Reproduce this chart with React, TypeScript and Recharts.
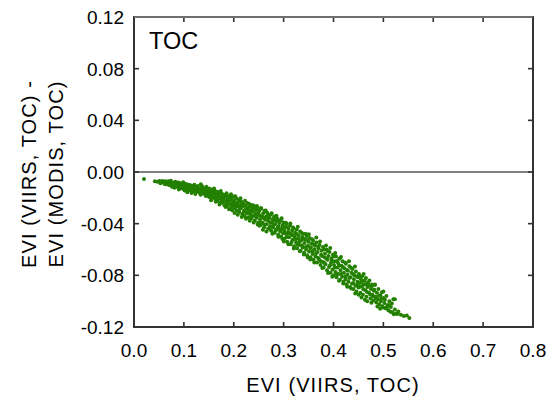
import React from 'react';
import { ScatterChart, Scatter, XAxis, YAxis, ReferenceLine } from 'recharts';

const xTicks = [0, 0.1, 0.2, 0.3, 0.4, 0.5, 0.6, 0.7, 0.8];
const xTickLabels = ['0.0', '0.1', '0.2', '0.3', '0.4', '0.5', '0.6', '0.7', '0.8'];
const yTicks = [-0.12, -0.08, -0.04, 0, 0.04, 0.08, 0.12];
const yTickLabels = ['-0.12', '-0.08', '-0.04', '0.00', '0.04', '0.08', '0.12'];
const xDomain = [0, 0.8];
const yDomain = [-0.12, 0.12];

const panelLabel = 'TOC';
const xTitle = 'EVI (VIIRS, TOC)';
const yTitleLines = ['EVI (VIIRS, TOC) -', 'EVI (MODIS, TOC)'];

// [EVI VIIRS TOC, EVI difference]
const pointsCore: [number, number][] = [
  [0.020, -0.0055], [0.042, -0.0072], [0.047, -0.0075], [0.051, -0.0070], [0.055, -0.0082], [0.058, -0.0076], [0.061, -0.0085], [0.063, -0.0072],
  [0.065, -0.0080], [0.067, -0.0095], [0.069, -0.0072], [0.071, -0.0088], [0.073, -0.0102], [0.075, -0.0079], [0.077, -0.0093], [0.078, -0.0110],
  [0.080, -0.0084], [0.082, -0.0098], [0.083, -0.0075], [0.085, -0.0108], [0.086, -0.0090], [0.088, -0.0118], [0.089, -0.0082], [0.091, -0.0100],
  [0.092, -0.0125], [0.094, -0.0088], [0.095, -0.0112], [0.097, -0.0096], [0.098, -0.0130], [0.099, -0.0080],
  [0.101, -0.0105], [0.102, -0.0120], [0.104, -0.0092], [0.105, -0.0135], [0.106, -0.0112], [0.108, -0.0098], [0.109, -0.0128], [0.110, -0.0115],
  [0.112, -0.0142], [0.113, -0.0102], [0.114, -0.0122], [0.116, -0.0135], [0.117, -0.0110], [0.118, -0.0150], [0.120, -0.0125], [0.121, -0.0098],
  [0.122, -0.0140], [0.124, -0.0118], [0.125, -0.0155], [0.126, -0.0130], [0.128, -0.0108], [0.129, -0.0145], [0.130, -0.0125], [0.132, -0.0160],
  [0.133, -0.0135], [0.134, -0.0095], [0.135, -0.0150], [0.137, -0.0120], [0.138, -0.0165], [0.139, -0.0140], [0.141, -0.0128], [0.142, -0.0172],
  [0.143, -0.0150], [0.145, -0.0115], [0.146, -0.0160], [0.147, -0.0138], [0.148, -0.0178], [0.149, -0.0148],
  [0.151, -0.0165], [0.152, -0.0130], [0.153, -0.0185], [0.155, -0.0155], [0.156, -0.0200], [0.157, -0.0140], [0.158, -0.0175], [0.160, -0.0160],
  [0.161, -0.0195], [0.162, -0.0145], [0.163, -0.0210], [0.165, -0.0170], [0.166, -0.0188], [0.167, -0.0152], [0.168, -0.0225], [0.170, -0.0180],
  [0.171, -0.0200], [0.172, -0.0160], [0.173, -0.0240], [0.175, -0.0190], [0.176, -0.0212], [0.177, -0.0170], [0.178, -0.0230], [0.180, -0.0198],
  [0.181, -0.0255], [0.182, -0.0178], [0.184, -0.0218], [0.185, -0.0240], [0.186, -0.0190], [0.187, -0.0265], [0.189, -0.0205], [0.190, -0.0228],
  [0.191, -0.0185], [0.193, -0.0250], [0.194, -0.0215], [0.195, -0.0275], [0.196, -0.0200], [0.198, -0.0238], [0.199, -0.0260], [0.200, -0.0190],
  [0.201, -0.0225], [0.202, -0.0280], [0.204, -0.0250], [0.205, -0.0205], [0.206, -0.0300], [0.207, -0.0240], [0.209, -0.0265], [0.210, -0.0215],
  [0.211, -0.0310], [0.213, -0.0255], [0.214, -0.0280], [0.215, -0.0230], [0.217, -0.0325], [0.218, -0.0268], [0.219, -0.0245], [0.221, -0.0298],
  [0.222, -0.0340], [0.223, -0.0260], [0.225, -0.0285], [0.226, -0.0315], [0.227, -0.0240], [0.229, -0.0350], [0.230, -0.0295], [0.231, -0.0270],
  [0.233, -0.0325], [0.234, -0.0255], [0.235, -0.0360], [0.237, -0.0305], [0.238, -0.0280], [0.239, -0.0340], [0.241, -0.0265], [0.242, -0.0375],
  [0.243, -0.0318], [0.245, -0.0290], [0.246, -0.0355], [0.247, -0.0275], [0.249, -0.0390], [0.250, -0.0330],
  [0.251, -0.0300], [0.253, -0.0365], [0.254, -0.0410], [0.255, -0.0285], [0.257, -0.0345], [0.258, -0.0395], [0.259, -0.0320], [0.261, -0.0428],
  [0.262, -0.0300], [0.263, -0.0370], [0.265, -0.0345], [0.266, -0.0405], [0.267, -0.0315], [0.269, -0.0440], [0.270, -0.0380], [0.271, -0.0355],
  [0.273, -0.0420], [0.274, -0.0330], [0.275, -0.0455], [0.277, -0.0390], [0.278, -0.0365], [0.279, -0.0430], [0.281, -0.0345], [0.282, -0.0470],
  [0.283, -0.0405], [0.285, -0.0380], [0.286, -0.0445], [0.287, -0.0360], [0.289, -0.0485], [0.290, -0.0420], [0.291, -0.0395], [0.293, -0.0460],
  [0.294, -0.0375], [0.295, -0.0500], [0.297, -0.0435], [0.298, -0.0410], [0.299, -0.0475], [0.300, -0.0390],
  [0.301, -0.0450], [0.302, -0.0515], [0.304, -0.0425], [0.305, -0.0480], [0.306, -0.0400], [0.307, -0.0540], [0.309, -0.0465], [0.310, -0.0440],
  [0.311, -0.0505], [0.313, -0.0415], [0.314, -0.0560], [0.315, -0.0480], [0.317, -0.0455], [0.318, -0.0525], [0.319, -0.0430], [0.321, -0.0575],
  [0.322, -0.0500], [0.323, -0.0470], [0.325, -0.0545], [0.326, -0.0445], [0.327, -0.0590], [0.329, -0.0515], [0.330, -0.0490], [0.331, -0.0565],
  [0.333, -0.0460], [0.334, -0.0610], [0.335, -0.0530], [0.337, -0.0505], [0.338, -0.0585], [0.339, -0.0480], [0.341, -0.0625], [0.342, -0.0550],
  [0.343, -0.0520], [0.345, -0.0600], [0.346, -0.0495], [0.347, -0.0645], [0.349, -0.0570], [0.350, -0.0540],
  [0.351, -0.0615], [0.352, -0.0510], [0.354, -0.0660], [0.355, -0.0585], [0.356, -0.0555], [0.358, -0.0635], [0.359, -0.0530], [0.360, -0.0680],
  [0.362, -0.0600], [0.363, -0.0570], [0.364, -0.0655], [0.366, -0.0545], [0.367, -0.0700], [0.368, -0.0620], [0.370, -0.0590], [0.371, -0.0675],
  [0.372, -0.0565], [0.374, -0.0720], [0.375, -0.0640], [0.376, -0.0610], [0.378, -0.0695], [0.379, -0.0580], [0.380, -0.0740], [0.382, -0.0660],
  [0.383, -0.0630], [0.384, -0.0715], [0.386, -0.0600], [0.387, -0.0760], [0.388, -0.0680], [0.390, -0.0650], [0.391, -0.0735], [0.392, -0.0620],
  [0.394, -0.0780], [0.395, -0.0700], [0.396, -0.0670], [0.398, -0.0755], [0.399, -0.0640], [0.400, -0.0800],
  [0.401, -0.0720], [0.402, -0.0690], [0.404, -0.0775], [0.405, -0.0655], [0.406, -0.0815], [0.408, -0.0740], [0.409, -0.0705], [0.410, -0.0790],
  [0.412, -0.0670], [0.413, -0.0835], [0.414, -0.0760], [0.416, -0.0725], [0.417, -0.0810], [0.418, -0.0690], [0.420, -0.0850], [0.421, -0.0780],
  [0.422, -0.0745], [0.424, -0.0830], [0.425, -0.0710], [0.426, -0.0870], [0.428, -0.0795], [0.429, -0.0765], [0.430, -0.0850], [0.432, -0.0730],
  [0.433, -0.0890], [0.434, -0.0815], [0.436, -0.0780], [0.437, -0.0865], [0.438, -0.0750], [0.440, -0.0905], [0.441, -0.0830], [0.442, -0.0800],
  [0.444, -0.0880], [0.445, -0.0770], [0.446, -0.0925], [0.448, -0.0850], [0.449, -0.0815], [0.450, -0.0895],
  [0.451, -0.0790], [0.452, -0.0860], [0.454, -0.0935], [0.455, -0.0830], [0.457, -0.0885], [0.458, -0.0805], [0.459, -0.0950], [0.461, -0.0870],
  [0.462, -0.0840], [0.464, -0.0915], [0.465, -0.0820], [0.466, -0.0965], [0.468, -0.0890], [0.469, -0.0855], [0.471, -0.0935], [0.472, -0.0840],
  [0.474, -0.0980], [0.475, -0.0905], [0.477, -0.0870], [0.478, -0.0950], [0.480, -0.0995], [0.481, -0.0920], [0.483, -0.0870], [0.484, -0.0965],
  [0.486, -0.1010], [0.487, -0.0935], [0.489, -0.0985], [0.490, -0.0905], [0.492, -0.1025], [0.494, -0.0955], [0.495, -0.1000], [0.497, -0.0930],
  [0.498, -0.1040], [0.500, -0.0975],
  [0.502, -0.1015], [0.504, -0.1055], [0.506, -0.0960], [0.508, -0.1030], [0.510, -0.1070], [0.512, -0.1000], [0.515, -0.1045], [0.518, -0.1085],
  [0.520, -0.0985], [0.523, -0.1065], [0.526, -0.1095], [0.530, -0.1080], [0.535, -0.1105], [0.541, -0.1115], [0.547, -0.1110], [0.552, -0.1130],
  [0.469, -0.0860], [0.483, -0.0875], [0.500, -0.0925], [0.523, -0.0985],
];

// second pass over the cloud, picking up the wider edges of the band
const pointsEdge: [number, number][] = [
  [0.053, -0.0088], [0.057, -0.0069], [0.062, -0.0094], [0.066, -0.0087], [0.070, -0.0101], [0.074, -0.0067], [0.076, -0.0114], [0.079, -0.0096],
  [0.081, -0.0121], [0.084, -0.0089], [0.087, -0.0101], [0.090, -0.0136], [0.093, -0.0107], [0.096, -0.0121], [0.0985, -0.0093],
  [0.1015, -0.0143], [0.1035, -0.0112], [0.107, -0.0157], [0.1095, -0.0098], [0.111, -0.0131], [0.1155, -0.0163], [0.119, -0.0109], [0.123, -0.0171],
  [0.1265, -0.0117], [0.131, -0.0139], [0.1335, -0.0177], [0.136, -0.0108], [0.1405, -0.0156], [0.144, -0.0186], [0.1475, -0.0125],
  [0.1505, -0.0193], [0.1535, -0.0147], [0.1545, -0.0218], [0.159, -0.0188], [0.1605, -0.0128], [0.164, -0.0231], [0.1665, -0.0162], [0.169, -0.0207],
  [0.1715, -0.0251], [0.174, -0.0148], [0.1765, -0.0236], [0.179, -0.0187], [0.1815, -0.0219], [0.1835, -0.0271], [0.1855, -0.0164], [0.188, -0.0238],
  [0.1905, -0.0288], [0.192, -0.0209], [0.1945, -0.0173], [0.197, -0.0296], [0.1985, -0.0221],
  [0.2015, -0.0318], [0.203, -0.0188], [0.2055, -0.0267], [0.208, -0.0331], [0.2095, -0.0229], [0.212, -0.0287], [0.2135, -0.0203], [0.216, -0.0349],
  [0.2185, -0.0251], [0.220, -0.0309], [0.2225, -0.0223], [0.2245, -0.0361], [0.2265, -0.0272], [0.228, -0.0318], [0.2305, -0.0246], [0.232, -0.0378],
  [0.2345, -0.0299], [0.236, -0.0337], [0.2385, -0.0258], [0.240, -0.0391], [0.2425, -0.0289], [0.2445, -0.0341], [0.2465, -0.0263], [0.248, -0.0407],
  [0.2495, -0.0309],
  [0.2515, -0.0417], [0.2525, -0.0339], [0.2545, -0.0278], [0.256, -0.0391], [0.2585, -0.0448], [0.260, -0.0356], [0.2625, -0.0409], [0.264, -0.0298],
  [0.2655, -0.0461], [0.268, -0.0371], [0.2695, -0.0329], [0.272, -0.0437], [0.2735, -0.0392], [0.276, -0.0319], [0.2775, -0.0478], [0.280, -0.0409],
  [0.2815, -0.0372], [0.284, -0.0452], [0.2855, -0.0338], [0.288, -0.0431], [0.2895, -0.0501], [0.292, -0.0378], [0.2935, -0.0446], [0.296, -0.0359],
  [0.2975, -0.0519], [0.2995, -0.0421],
  [0.3005, -0.0538], [0.303, -0.0471], [0.3045, -0.0392], [0.3065, -0.0503], [0.308, -0.0429], [0.3095, -0.0559], [0.312, -0.0477], [0.3135, -0.0398],
  [0.316, -0.0541], [0.3175, -0.0489], [0.320, -0.0438], [0.3205, -0.0592], [0.324, -0.0521], [0.3255, -0.0478], [0.328, -0.0561], [0.3285, -0.0423],
  [0.332, -0.0538], [0.3325, -0.0613], [0.336, -0.0471], [0.3365, -0.0568], [0.340, -0.0517], [0.3405, -0.0639], [0.344, -0.0478], [0.3445, -0.0581],
  [0.348, -0.0529], [0.3485, -0.0661],
  [0.3505, -0.0481], [0.353, -0.0588], [0.3535, -0.0678], [0.357, -0.0521], [0.3575, -0.0613], [0.361, -0.0559], [0.3615, -0.0701], [0.365, -0.0629],
  [0.3655, -0.0508], [0.369, -0.0663], [0.3695, -0.0578], [0.373, -0.0539], [0.3735, -0.0689], [0.377, -0.0651], [0.3775, -0.0743], [0.381, -0.0598],
  [0.3815, -0.0702], [0.385, -0.0569], [0.3855, -0.0669], [0.389, -0.0781], [0.3895, -0.0613], [0.393, -0.0721], [0.3935, -0.0588], [0.397, -0.0689],
  [0.3975, -0.0811], [0.4005, -0.0652],
  [0.403, -0.0739], [0.4035, -0.0628], [0.407, -0.0791], [0.4075, -0.0689], [0.411, -0.0841], [0.4115, -0.0721], [0.415, -0.0659], [0.4155, -0.0789],
  [0.419, -0.0738], [0.4195, -0.0863], [0.423, -0.0701], [0.4235, -0.0809], [0.427, -0.0759], [0.4275, -0.0888], [0.431, -0.0691], [0.4315, -0.0821],
  [0.435, -0.0741], [0.4355, -0.0901], [0.439, -0.0789], [0.4395, -0.0859], [0.443, -0.0731], [0.4435, -0.0941], [0.447, -0.0809], [0.4475, -0.0871],
  [0.4505, -0.0951], [0.453, -0.0809], [0.4535, -0.0889], [0.456, -0.0971], [0.4565, -0.0851], [0.460, -0.0908], [0.4605, -0.0789], [0.463, -0.0989],
  [0.4635, -0.0869], [0.467, -0.0929], [0.4675, -0.1001], [0.470, -0.0881], [0.4735, -0.0949], [0.476, -0.1012], [0.4765, -0.0889], [0.4795, -0.0961],
  [0.482, -0.0911], [0.4855, -0.0979], [0.488, -0.1041], [0.491, -0.0959], [0.4935, -0.1059], [0.496, -0.0981], [0.4995, -0.1049],
  [0.503, -0.0989], [0.507, -0.1049], [0.511, -0.1031], [0.514, -0.1081], [0.517, -0.1019], [0.521, -0.1101], [0.528, -0.1099],
];

const data = [...pointsCore, ...pointsEdge].map(([x, y]) => ({ x, y }));

const FONT = '"Liberation Sans", Arial, sans-serif';
const FRAME = '#333';
const DOT = '#238000';

// chart layout; the plot box follows from these
const W = 553;
const H = 398;
const M = { top: 17, right: 20, bottom: 11, left: 74 };
const Y_AXIS_W = 60;
const X_AXIS_H = 60;
const PLOT_X = M.left + Y_AXIS_W;
const PLOT_Y = M.top;
const PLOT_W = W - M.right - PLOT_X;
const PLOT_H = H - M.bottom - X_AXIS_H - PLOT_Y;

const labelFor = (ticks: number[], labels: string[], v: number) => {
  const i = ticks.findIndex((t) => Math.abs(t - v) < 1e-9);
  return i >= 0 ? labels[i] : '';
};

// bottom tick: inward mark at the bottom and the mirrored one at the top edge
// eslint-disable-next-line @typescript-eslint/no-explicit-any
function BottomTick({ x, y, payload }: any) {
  return (
    <g>
      <rect x={x - 0.8} y={y - 5} width={1.6} height={5} fill={FRAME} />
      <rect x={x - 0.8} y={y - PLOT_H} width={1.6} height={5} fill={FRAME} />
      <text x={x} y={y + 30} textAnchor="middle" fontFamily={FONT} fontSize={19} fill="#000" stroke="none">
        {labelFor(xTicks, xTickLabels, payload.value)}
      </text>
    </g>
  );
}

// left tick: inward mark at the left and the mirrored one at the right edge
// eslint-disable-next-line @typescript-eslint/no-explicit-any
function LeftTick({ x, y, payload }: any) {
  return (
    <g>
      <rect x={x} y={y - 0.8} width={5} height={1.6} fill={FRAME} />
      <rect x={x + PLOT_W - 5} y={y - 0.8} width={5} height={1.6} fill={FRAME} />
      <text x={x - 10} y={y} dy="0.36em" textAnchor="end" fontFamily={FONT} fontSize={19} fill="#000" stroke="none">
        {labelFor(yTicks, yTickLabels, payload.value)}
      </text>
    </g>
  );
}

// eslint-disable-next-line @typescript-eslint/no-explicit-any
function Dot({ cx, cy }: any) {
  return <circle cx={cx} cy={cy} r={2} fill={DOT} />;
}

export default function App() {
  return (
    <div style={{ position: 'absolute', left: 0, top: 0, width: W, height: H, background: '#fff' }}>
      <ScatterChart width={W} height={H} margin={M}>
        <XAxis xAxisId="b" type="number" dataKey="x" domain={xDomain} ticks={xTicks} interval={0} allowDataOverflow
          height={X_AXIS_H} tickSize={0} tickMargin={0} stroke={FRAME} strokeWidth={2} tick={<BottomTick />} />
        <YAxis yAxisId="l" type="number" dataKey="y" domain={yDomain} ticks={yTicks} interval={0} allowDataOverflow
          width={Y_AXIS_W} tickSize={0} tickMargin={0} stroke={FRAME} strokeWidth={2} tick={<LeftTick />} />
        <ReferenceLine xAxisId="b" yAxisId="l" y={0} stroke="#000" strokeWidth={1} />
        <Scatter xAxisId="b" yAxisId="l" data={data} shape={<Dot />} isAnimationActive={false} />
      </ScatterChart>
      <svg width={W} height={H} style={{ position: 'absolute', left: 0, top: 0, pointerEvents: 'none' }}>
        {/* plot frame */}
        <rect x={PLOT_X} y={PLOT_Y} width={PLOT_W} height={PLOT_H} fill="none" stroke={FRAME} strokeWidth={2} />
        <line x1={PLOT_X} y1={PLOT_Y} x2={PLOT_X + PLOT_W} y2={PLOT_Y} stroke="#6e6e6e" strokeWidth={2} />
        <text x={149} y={49} fontFamily={FONT} fontSize={23.5} fill="#000">{panelLabel}</text>
        <text x={333} y={392} textAnchor="middle" fontFamily={FONT} fontSize={20} letterSpacing={1.1} fill="#000">{xTitle}</text>
        {yTitleLines.map((t, i) => (
          <text
            key={t}
            transform={`translate(${36 + i * 27}, ${PLOT_Y + PLOT_H / 2 + 2}) rotate(-90)`}
            textAnchor="middle"
            fontFamily={FONT}
            fontSize={20}
            letterSpacing={1.1}
            fill="#000"
          >
            {t}
          </text>
        ))}
      </svg>
    </div>
  );
}
